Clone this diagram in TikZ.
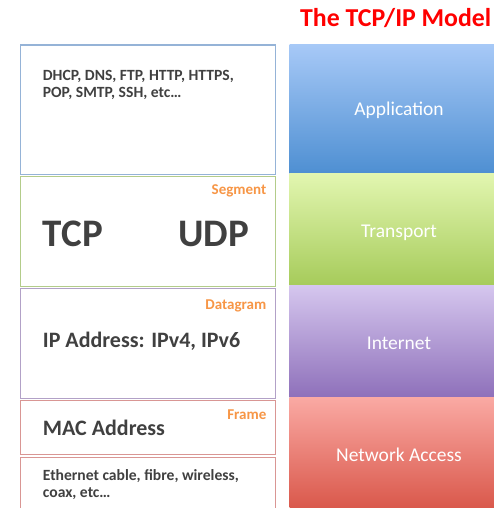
\documentclass[tikz,border=0pt]{standalone}
\usepackage{fontspec}
\setmainfont{Carlito}
\definecolor{txt}{HTML}{404040}
\definecolor{orng}{HTML}{F79646}
\definecolor{bblue}{HTML}{95B3D7}
\definecolor{bgreen}{HTML}{B3CC8A}
\definecolor{bpurp}{HTML}{B2A1C7}
\definecolor{bred}{HTML}{D99694}
\definecolor{apT}{HTML}{A7C9F7}\definecolor{apB}{HTML}{4E8FD2}
\definecolor{trT}{HTML}{E2F6B0}\definecolor{trB}{HTML}{A6CB5A}
\definecolor{inT}{HTML}{D5C6EE}\definecolor{inB}{HTML}{8E70BA}
\definecolor{naT}{HTML}{FAA9A3}\definecolor{naB}{HTML}{D9574A}
\tikzset{
  lbox/.style={draw=#1, line width=1.3pt, fill=white, anchor=north west, inner sep=0pt, minimum width=255pt},
  rbox/.style={anchor=north west, inner sep=0pt, minimum width=220pt, draw=none},
  small/.style={anchor=base west, inner sep=0pt, text=txt, font=\fontsize{15.6}{18}\selectfont\bfseries, align=left},
  mid/.style={anchor=base west, inner sep=0pt, text=txt, font=\fontsize{22}{26}\selectfont\bfseries},
  big/.style={anchor=base west, inner sep=0pt, text=txt, font=\fontsize{39}{44}\selectfont\bfseries},
  pdu/.style={anchor=base east, inner sep=0pt, text=orng, font=\fontsize{15}{18}\selectfont\bfseries},
  layer/.style={anchor=base, inner sep=0pt, text=white, font=\fontsize{19.5}{22}\selectfont},
}
\begin{document}
\begin{tikzpicture}[x=1pt,y=-1pt]
\useasboundingbox (0,0) rectangle (494,508);
\clip (0,0) rectangle (494,508);
\fill[white] (0,0) rectangle (494,508);
% left column
\node[lbox=bblue, minimum height=129pt] (appL) at (20,44.5) {};
\node[lbox=bgreen, minimum height=110pt] (segL) at (20,175.5) {};
\node[lbox=bpurp, minimum height=110pt] (datL) at (20,287.5) {};
\node[lbox=bred, minimum height=54pt] (frmL) at (20,400) {};
\node[lbox=bred, minimum height=70pt] (phyL) at (20,456.5) {};
% right column
\node[rbox, minimum height=129.5pt, top color=apT, bottom color=apB] (appR) at (289.5,44) {};
\node[rbox, minimum height=112pt, top color=trT, bottom color=trB] (trR) at (289.5,173.5) {};
\node[rbox, minimum height=112pt, top color=inT, bottom color=inB] (inR) at (289.5,285.5) {};
\node[rbox, minimum height=112pt, top color=naT, bottom color=naB] (naR) at (289.5,397.5) {};
% title
\node[anchor=base west, inner sep=0pt, text=red, font=\fontsize{25.8}{30}\selectfont\bfseries] (title) at (300,26.7) {The TCP/IP Model};
% left texts
\node[small] (apps1) at (42.7,80.7) {DHCP, DNS, FTP, HTTP, HTTPS,};
\node[small] (apps2) at (42.7,97.3) {POP, SMTP, SSH, etc…};
\node[pdu] (seg) at (266.5,194) {Segment};
\node[big] (tcp) at (42.7,246) {TCP};
\node[big] (udp) at (178.3,246) {UDP};
\node[pdu] (dgr) at (266.5,309) {Datagram};
\node[mid] (ip) at (42.7,347.7) {IP Address: IPv4, IPv6};
\node[pdu] (frm) at (266.5,419.3) {Frame};
\node[mid] (mac) at (42.7,435) {MAC Address};
\node[small] (eth1) at (42.7,480.7) {Ethernet cable, fibre, wireless,};
\node[small] (eth2) at (42.7,497.3) {coax, etc…};
% right texts
\node[layer] (tApp) at (399,116) {Application};
\node[layer] (tTr) at (399,237.7) {Transport};
\node[layer] (tIn) at (399,349.3) {Internet};
\node[layer] (tNa) at (399,461.7) {Network Access};
\end{tikzpicture}
\end{document}
